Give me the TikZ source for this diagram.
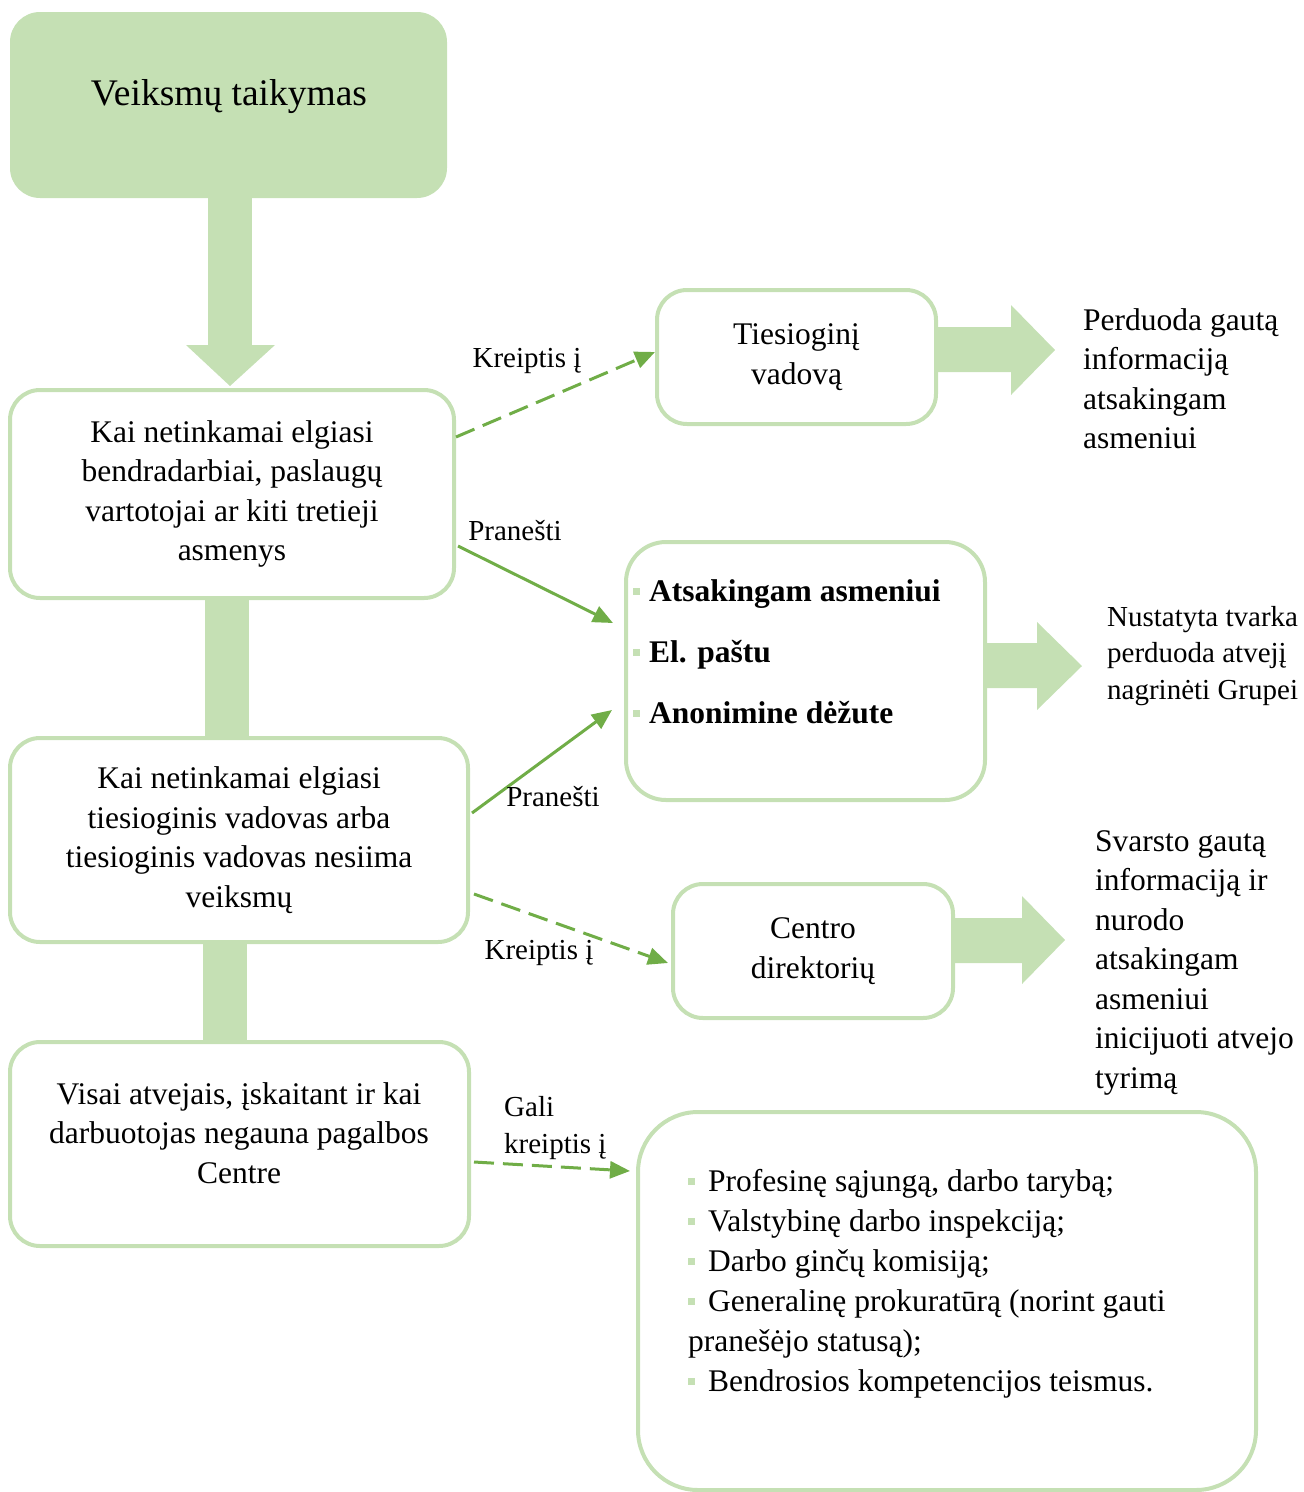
\documentclass[tikz,border=0pt]{standalone}
\usepackage{fontspec}
\setmainfont{Liberation Serif}
\usepackage{tikz}
\usetikzlibrary{arrows.meta,positioning,calc}
\definecolor{lgreen}{HTML}{C5E0B4}
\definecolor{dgreen}{HTML}{70AD47}
\newcommand{\sqbul}[1][9pt]{\textcolor{lgreen}{\rule[7pt]{7pt}{7pt}}\hspace{#1}}

\begin{document}
\begin{tikzpicture}[x=1pt,y=-1pt,
  box/.style={draw=lgreen,line width=4pt,rounded corners=30pt,align=center,inner sep=0pt,
    font=\fontsize{31.5}{39.5}\selectfont},
  txt/.style={align=left,anchor=west,inner sep=0pt,font=\fontsize{31.5}{39.5}\selectfont},
  lbl/.style={inner sep=0pt,font=\fontsize{29}{37}\selectfont},
  fat/.style={fill=lgreen},
  link/.style={draw=dgreen,line width=3pt,-{Triangle[length=20pt,width=17pt]}},
  dashlink/.style={link,dash pattern=on 20pt off 9pt}]
  \useasboundingbox (0,0) rectangle (1304,1492); % lapo dydis

  % pagrindinis stulpelis
  \node[fill=lgreen,rounded corners=30pt,minimum width=437pt,minimum height=186pt] (T) at (228.5,105) {};
  \node[inner sep=0pt,font=\fontsize{37.5}{44}\selectfont] (Tt) at (229,97) {Veiksmų taikymas};
  \node[box,minimum width=444pt,minimum height=208pt] (A) at (232,494)
    {Kai netinkamai elgiasi\\bendradarbiai, paslaugų\\vartotojai ar kiti tretieji\\asmenys};
  \node[box,minimum width=458pt,minimum height=204pt] (B) at (239,840)
    {Kai netinkamai elgiasi\\tiesioginis vadovas arba\\tiesioginis vadovas nesiima\\veiksmų};
  \node[box,minimum width=459pt,minimum height=204pt] (C) at (239.5,1144) {};
  \node[inner sep=0pt,align=center,font=\fontsize{31.5}{39.5}\selectfont] (Ct) at (239,1133)
    {Visai atvejais, įskaitant ir kai\\darbuotojas negauna pagalbos\\Centre};

  % storos rodyklės ir juostos tarp langelių
  \fill[fat] ($(T.south)+(-20.5,0)$) rectangle ($(A.north)+(20,-43)$); % rodyklės kotas
  \fill[fat] ($(A.north)+(-46,-43)$) -- ($(A.north)+(43,-43)$) -- ($(A.north)+(-2,-2)$) -- cycle; % rodyklės galvutė
  \fill[fat] ($(A.south)+(-27,0)$) rectangle ($(B.north)+(10,0)$);
  \fill[fat] ($(B.south)+(-36,0)$) rectangle ($(C.north)+(7.5,0)$);

  % dešinės pusės langeliai
  \node[box,minimum width=279pt,minimum height=134pt] (D) at (796.5,357) {Tiesioginį\\vadovą};
  \node[box,rounded corners=40pt,minimum width=359pt,minimum height=258pt] (E) at (805.5,671) {};
  \node[txt,font=\fontsize{31.5}{61}\selectfont\bfseries] (Et) at (633,652)
    {\sqbul Atsakingam asmeniui\\\sqbul El. paštu\\\sqbul Anonimine dėžute};
  \node[box,minimum width=280pt,minimum height=134pt] (F) at (813,951) {Centro\\direktorių};
  \node[box,rounded corners=60pt,minimum width=618pt,minimum height=378pt] (G) at (947,1301) {};
  \node[txt,font=\fontsize{31.5}{40}\selectfont] (Gt) at (688,1284)
    {\sqbul[13pt]Profesinę sąjungą, darbo tarybą;\\\sqbul[13pt]Valstybinę darbo inspekciją;\\\sqbul[13pt]Darbo ginčų komisiją;\\\sqbul[13pt]Generalinę prokuratūrą (norint gauti\\pranešėjo statusą);\\\sqbul[13pt]Bendrosios kompetencijos teismus.};

  % storos rodyklės į dešinę
  \fill[fat] ($(D.east)+(0,-30)$) -- ++(73,0) -- ++(0,-22) -- ++(44,45) -- ++(-44,45) -- ++(0,-23) -- ++(-73,0) -- cycle;
  \fill[fat] ($(E.east)+(0,-28)$) -- ++(50,0) -- ++(0,-21) -- ++(45,44) -- ++(-45,44) -- ++(0,-22) -- ++(-50,0) -- cycle;
  \fill[fat] ($(F.east)+(0,-33)$) -- ++(67,0) -- ++(0,-22) -- ++(43,44) -- ++(-43,44) -- ++(0,-21) -- ++(-67,0) -- cycle;

  % tekstai dešinėje
  \node[txt] (Dr) at (1083,378.5) {Perduoda gautą\\informaciją\\atsakingam\\asmeniui};
  \node[txt,font=\fontsize{29}{36.5}\selectfont] (Er) at (1107,656) {Nustatyta tvarka\\perduoda atvejį\\nagrinėti Grupei};
  \node[txt] (Fr) at (1095,962.5) {Svarsto gautą\\informaciją ir\\nurodo\\atsakingam\\asmeniui\\inicijuoti atvejo\\tyrimą};

  % jungtys
  \draw[dashlink] ([yshift=57pt]A.east) -- ([yshift=5pt]D.west);
  \draw[link] ([xshift=2pt,yshift=-52pt]A.east) -- ([xshift=-11pt,yshift=48pt]E.west);
  \draw[link] ([xshift=2pt,yshift=27pt]B.east) -- ([xshift=-12pt,yshift=-39pt]E.west);
  \draw[dashlink] ([xshift=4pt,yshift=-54pt]B.east) -- ([xshift=-3pt,yshift=-12pt]F.west);
  \draw[dashlink] ([xshift=3pt,yshift=-18pt]C.east) -- ([xshift=-6pt,yshift=130pt]G.west);

  % jungčių užrašai
  \node[lbl] (k1) at (527,361) {Kreiptis į};
  \node[lbl] (p1) at (515,531) {Pranešti};
  \node[lbl] (p2) at (553,797) {Pranešti};
  \node[lbl] (k2) at (539,953) {Kreiptis į};
  \node[lbl,align=left,anchor=west] (k3) at (504,1128) {Gali\\kreiptis į};
\end{tikzpicture}
\end{document}
